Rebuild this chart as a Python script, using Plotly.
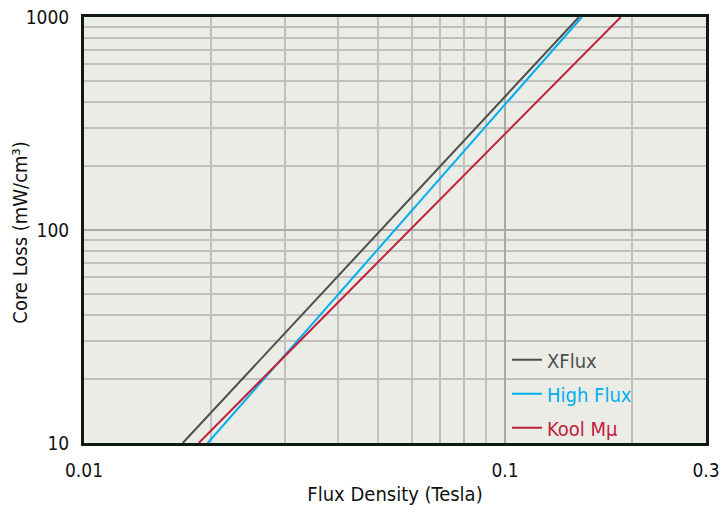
import plotly.graph_objects as go

# Data (flux density in Tesla, core loss in mW/cm^3)
xflux_b = [0.01716, 0.0507, 0.1498]
xflux_p = [10, 100, 1000]
highflux_b = [0.01967, 0.0547, 0.1522]
highflux_p = [10, 100, 1000]
koolmu_b = [0.01873, 0.0594, 0.1883]
koolmu_p = [10, 100, 1000]

x_ticks = [0.01, 0.1, 0.3]
x_ticktext = ["0.01", "0.1", "0.3"]
x_minor = [0.02, 0.03, 0.04, 0.05, 0.06, 0.07, 0.08, 0.09, 0.2]
y_ticks = [10, 100, 1000]
y_ticktext = ["10", "100", "1000"]
y_minor = [20, 30, 40, 50, 60, 70, 80, 90, 200, 300, 400, 500, 600, 700, 800, 900]

c_x = "#4d4d4d"
c_h = "#00aeef"
c_k = "#c1203b"

FONT = "DejaVu Sans Condensed, DejaVu Sans, sans-serif"

def fnt(size, color="#111"):
    return dict(family=FONT, size=size, color=color)

fig = go.Figure()
for xs, ys, name, col in [
    (xflux_b, xflux_p, "XFlux", c_x),
    (highflux_b, highflux_p, "High Flux", c_h),
    (koolmu_b, koolmu_p, "Kool Mµ", c_k),
]:
    fig.add_trace(go.Scatter(
        x=xs, y=ys, mode="lines", line=dict(color=col, width=2),
        name=f'<span style="color:{col}">{name}</span>', legendgroup=name,
    ))

axis_common = dict(
    type="log", showline=True, mirror=True, linecolor="#0e1a12", linewidth=3,
    gridcolor="#a9aaa8", gridwidth=2, zeroline=False,
    tickfont=fnt(19),
    ticks="", ticklabelstandoff=8, automargin=False,
)

fig.update_xaxes(
    **axis_common,
    range=[-2, -0.52288],
    tickvals=x_ticks, ticktext=x_ticktext,
    minor=dict(tickvals=x_minor, showgrid=True, gridcolor="#c0c1bf", gridwidth=1.5),
    title=dict(text="Flux Density (Tesla)", font=fnt(20), standoff=8),
)
fig.update_yaxes(
    **axis_common,
    range=[1, 3],
    tickvals=y_ticks, ticktext=y_ticktext,
    minor=dict(tickvals=y_minor, showgrid=True, gridcolor="#c0c1bf", gridwidth=1.5),
)

fig.add_annotation(
    text="Core Loss (mW/cm³)", xref="paper", yref="paper",
    x=-0.102, y=0.495, xanchor="center", yanchor="middle",
    textangle=-90, showarrow=False, font=fnt(20),
)

fig.update_layout(
    width=725, height=516,
    margin=dict(l=84, r=19, t=17, b=73),
    plot_bgcolor="#ebece6", paper_bgcolor="white",
    showlegend=True,
    legend=dict(
        x=0.68, y=-0.01, xanchor="left", yanchor="bottom",
        bgcolor="rgba(0,0,0,0)", borderwidth=0,
        font=fnt(20), itemwidth=30, tracegroupgap=5,
    ),
)

fig.write_html("out.html", config={"displayModeBar": False},
               post_script="document.body.style.margin='0px';")
